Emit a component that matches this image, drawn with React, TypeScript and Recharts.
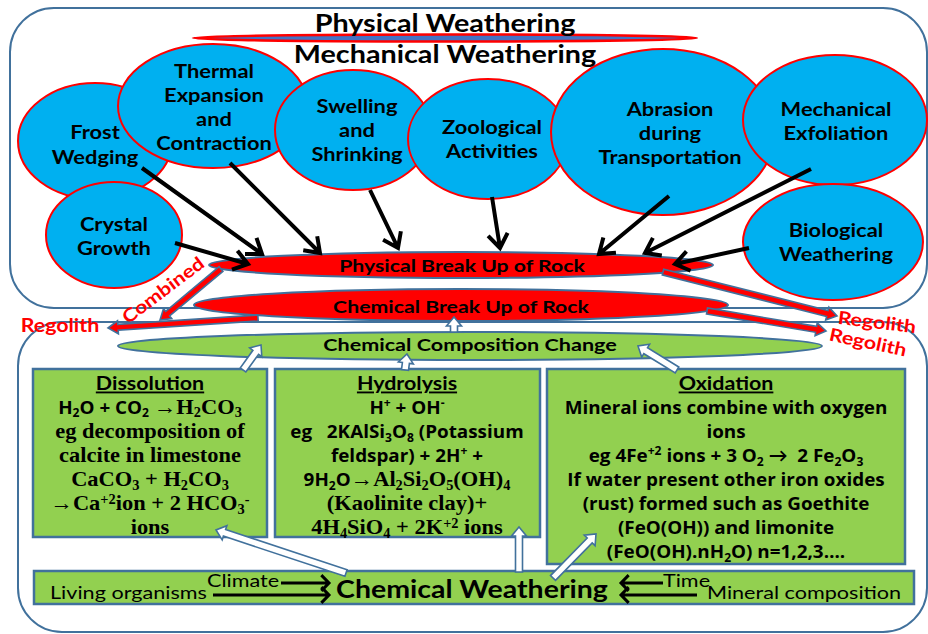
import React from 'react';
import { ScatterChart, Scatter, XAxis, YAxis, ReferenceArea } from 'recharts';

// ---------------- content (text) ----------------
const headingLabels = ['Physical Weathering', 'Mechanical Weathering'];
const causeLabels = [
  ['Frost', 'Wedging'],
  ['Thermal', 'Expansion', 'and', 'Contraction'],
  ['Swelling', 'and', 'Shrinking'],
  ['Zoological', 'Activities'],
  ['Abrasion', 'during', 'Transportation'],
  ['Mechanical', 'Exfoliation'],
  ['Crystal', 'Growth'],
  ['Biological', 'Weathering'],
];
const breakUpLabels = ['Physical Break Up of Rock', 'Chemical Break Up of Rock'];
const compositionLabel = 'Chemical Composition Change';
const regolithLabels = ['Combined', 'Regolith', 'Regolith', 'Regolith'];
const processTitles = ['Dissolution', 'Hydrolysis', 'Oxidation'];
// markup: _x subscript, ^{..} superscript, ~ toggles serif face
const dissolutionLines = [
  'H_2O + CO_2 ~→H_2CO_3',
  '~eg decomposition of',
  '~calcite in limestone',
  '~CaCO_3 + H_2CO_3',
  '~→Ca^{+2}ion + 2 HCO_3^-',
  '~ions',
];
const hydrolysisLines = [
  'H^+ + OH^-',
  'eg \u00a0\u00a02KAlSi_3O_8 (Potassium',
  'feldspar) + 2H^+ +',
  '9H_2O~→Al_2Si_2O_5(OH)_4',
  '~(Kaolinite clay)+',
  '~4H_4SiO_4 + 2K^{+2} ions',
];
const oxidationLines = [
  'Mineral ions combine with oxygen',
  'ions',
  'eg 4Fe^{+2} ions + 3 O_2 → \u00a02 Fe_2O_3',
  'If water present other iron oxides',
  '(rust) formed such as Goethite',
  '(FeO(OH)) and limonite',
  '(FeO(OH).nH_2O) n=1,2,3….',
];
const processLines = [dissolutionLines, hydrolysisLines, oxidationLines];
const weatheringLabel = 'Chemical Weathering';
const factorLabels = ['Living organisms', 'Climate', 'Time', 'Mineral composition'];

// ---------------- layout ----------------
const SANS = 'Lato, "Open Sans", "DejaVu Sans", sans-serif';
const BODY = '"Open Sans", Lato, "DejaVu Sans", sans-serif';
const SERIF = '"Liberation Serif", "DejaVu Serif", serif';
const EDGE = '#41719c';
const SKY = '#00b0f0';
const LEAF = '#92d050';
const RED = '#ff0000';

const panelLayout = [
  [10, 8, 927, 308],
  [18, 322, 927, 632],
];
const boxLayout = [
  [33, 369, 267, 537],
  [275, 369, 540, 537],
  [547, 369, 905, 564],
  [34, 571, 914, 604],
];
// cx, cy, rx, ry, textX, firstLineY, lineGap
const causeLayout = [
  [95, 141, 77, 58, 95, 132, 25],
  [213, 106, 95, 62, 214, 71, 24],
  [353, 130, 78, 60, 357, 106, 24],
  [488, 139, 80, 60, 492, 127, 24],
  [663, 132, 112, 83, 670, 109, 24],
  [835, 120, 92, 65, 836, 109, 24],
  [114, 235, 68, 53, 114, 224, 24],
  [833, 242, 90, 58, 836, 230, 24],
];
const headingLayout = [[445, 23], [445, 54]];
const breakLayout = [
  [461, 265, 252, 13, 462, 266],
  [461, 305, 267, 16, 461, 307],
];
const compositionLayout = [470, 346, 352, 14, 470, 345];
const regolithLayout = [
  [163, 290, -37],
  [60, 326, 0],
  [877, 322, 7],
  [868, 342, 12],
];
const processLayout = [
  [150, 383],
  [407, 383],
  [726, 383],
];
const weatheringLayout = [472, 589];
const factorLayout = [
  [50, 593],
  [207, 581],
  [663, 581],
  [707, 593],
];
const blackArrows = [
  [142, 168, 262, 254],
  [230, 163, 320, 253],
  [370, 190, 398, 248],
  [492, 197, 500, 248],
  [669, 196, 599, 254],
  [811, 169, 645, 253],
  [749, 248, 675, 264],
  [175, 243, 248, 264],
];
const factorArrows = [
  [281, 583, 329, 583],
  [213, 595, 329, 595],
  [663, 583, 621, 583],
  [697, 595, 621, 595],
];
const regolithArrows = [
  [221, 269, 160, 320],
  [258, 318, 108, 328],
  [663, 272, 837, 316],
  [707, 311, 826, 331],
];
const hollowArrows = [
  [454, 332, 454, 317],
  [243, 370, 261, 345],
  [405, 370, 407, 354],
  [677, 370, 638, 346],
  [346, 573, 216, 530],
  [519, 572, 519, 527],
  [553, 578, 596, 534],
];

// ---------------- helpers ----------------
type Seg = { t: string; k: 'n' | 'sub' | 'sup'; serif: boolean };
function parseRich(s: string): Seg[] {
  const segs: Seg[] = [];
  let serif = false;
  let buf = '';
  const flush = () => {
    if (buf) {
      segs.push({ t: buf, k: 'n', serif });
      buf = '';
    }
  };
  for (let i = 0; i < s.length; i++) {
    const c = s[i];
    if (c === '~') {
      flush();
      serif = !serif;
      continue;
    }
    if (c === '_' || c === '^') {
      flush();
      let t = '';
      if (s[i + 1] === '{') {
        const j = s.indexOf('}', i + 2);
        t = s.slice(i + 2, j);
        i = j;
      } else {
        t = s[i + 1];
        i++;
      }
      segs.push({ t, k: c === '_' ? 'sub' : 'sup', serif });
      continue;
    }
    buf += c;
  }
  flush();
  return segs;
}

function RichText(props: any) {
  const {
    x, y, text, size, sx = 1, weight = 700, anchor = 'middle', color = '#000', rotate = 0,
    underline = false, family = SANS, serifScale = 1,
  } = props;
  const segs = parseRich(text);
  let off = 0;
  return (
    <text
      x={0}
      y={size * 0.36}
      textAnchor={anchor}
      fontSize={size}
      fontWeight={weight}
      fill={color}
      fontFamily={family}
      textDecoration={underline ? 'underline' : undefined}
      transform={`translate(${x} ${y}) rotate(${rotate}) scale(${sx} 1)`}
      style={{ whiteSpace: 'pre' }}
    >
      {segs.map((s, i) => {
        const fs = s.serif ? size * serifScale : size;
        const target = s.k === 'sub' ? size * 0.2 : s.k === 'sup' ? -size * 0.36 : 0;
        const dy = target - off;
        off = target;
        return (
          <tspan key={i} dy={dy} fontFamily={s.serif ? SERIF : family} fontSize={s.k === 'n' ? fs : fs * 0.64}>
            {s.t}
          </tspan>
        );
      })}
    </text>
  );
}

function EllipseShape(props: any) {
  const { cx, cy, payload: p } = props;
  return (
    <g>
      <ellipse cx={cx} cy={cy} rx={p.rx} ry={p.ry} fill={p.fill} stroke={p.stroke} strokeWidth={p.sw} />
      {(p.lines || []).map((t: string, j: number) => (
        <RichText key={j} x={cx + p.tdx} y={cy + p.tdy + j * p.gap} text={t} size={p.size} sx={p.sx} />
      ))}
    </g>
  );
}

function LabelShape(props: any) {
  const { cx, cy, payload: p } = props;
  return (
    <RichText
      x={cx}
      y={cy}
      text={p.text}
      size={p.size}
      sx={p.sx}
      weight={p.weight}
      anchor={p.anchor}
      color={p.color}
      rotate={p.rotate}
      underline={p.underline}
      family={p.family}
      serifScale={p.serifScale}
    />
  );
}

const EmptyShape = () => <g />;

const panelShape = (fill: string, r: number, sw: number) => (p: any) =>
  <rect x={p.x} y={p.y} width={p.width} height={p.height} rx={r} ry={r} fill={fill} stroke={EDGE} strokeWidth={sw} />;

function blockPath(x1: number, y1: number, x2: number, y2: number, w: number, hw: number, hl: number) {
  const dx = x2 - x1;
  const dy = y2 - y1;
  const L = Math.hypot(dx, dy);
  const ux = dx / L;
  const uy = dy / L;
  const nx = -uy;
  const ny = ux;
  const bx = x2 - ux * hl;
  const by = y2 - uy * hl;
  const pts = [
    [x1 + nx * w, y1 + ny * w],
    [bx + nx * w, by + ny * w],
    [bx + nx * hw, by + ny * hw],
    [x2, y2],
    [bx - nx * hw, by - ny * hw],
    [bx - nx * w, by - ny * w],
    [x1 - nx * w, y1 - ny * w],
  ];
  return 'M' + pts.map((q) => q[0].toFixed(1) + ',' + q[1].toFixed(1)).join('L') + 'Z';
}

// line renderers receive the scaled points of a two-point series
const blockLine = (fill: string, w: number, hw: number, hl: number) => (p: any) => {
  const [a, b] = p.points;
  return <path d={blockPath(a.x, a.y, b.x, b.y, w, hw, hl)} fill={fill} stroke={EDGE} strokeWidth={1.6} strokeLinejoin="miter" />;
};

const chevronLine = (width: number, hl: number, spread: number) => (p: any) => {
  const [a, b] = p.points;
  const ang = Math.atan2(b.y - a.y, b.x - a.x);
  const h1x = b.x - hl * Math.cos(ang - spread);
  const h1y = b.y - hl * Math.sin(ang - spread);
  const h2x = b.x - hl * Math.cos(ang + spread);
  const h2y = b.y - hl * Math.sin(ang + spread);
  return (
    <path
      d={`M${a.x},${a.y}L${b.x},${b.y}M${h1x},${h1y}L${b.x},${b.y}L${h2x},${h2y}`}
      fill="none"
      stroke="#000"
      strokeWidth={width}
      strokeLinejoin="miter"
    />
  );
};

const toPts = (a: number[]) => [
  { x: a[0], y: a[1] },
  { x: a[2], y: a[3] },
];

// ---------------- tables built from the arrays ----------------
const causeNodes = causeLabels.map((lines, i) => {
  const [cx, cy, rx, ry, tx, ty, gap] = causeLayout[i];
  return { x: cx, y: cy, rx, ry, fill: SKY, stroke: RED, sw: 2, lines, tdx: tx - cx, tdy: ty - cy, gap, size: 19, sx: 1.15 };
});
const ruleNode = [{ x: 445, y: 38, rx: 252, ry: 3.5, fill: '#4472c4', stroke: RED, sw: 2.5, lines: [], tdx: 0, tdy: 0, gap: 0, size: 0, sx: 1 }];
const breakNodes = breakUpLabels.map((t, i) => {
  const [cx, cy, rx, ry, tx, ty] = breakLayout[i];
  return { x: cx, y: cy, rx, ry, fill: RED, stroke: EDGE, sw: 2, lines: [t], tdx: tx - cx, tdy: ty - cy, gap: 0, size: 17, sx: 1.25 };
});
const compositionNode = [
  {
    x: compositionLayout[0],
    y: compositionLayout[1],
    rx: compositionLayout[2],
    ry: compositionLayout[3],
    fill: LEAF,
    stroke: EDGE,
    sw: 2,
    lines: [compositionLabel],
    tdx: compositionLayout[4] - compositionLayout[0],
    tdy: compositionLayout[5] - compositionLayout[1],
    gap: 0,
    size: 17,
    sx: 1.27,
  },
];
const topLabels = [
  ...headingLabels.map((t, i) => ({ x: headingLayout[i][0], y: headingLayout[i][1], text: t, size: 25, sx: 1.15, weight: 700 })),
  ...regolithLabels.map((t, i) => ({
    x: regolithLayout[i][0],
    y: regolithLayout[i][1],
    rotate: regolithLayout[i][2],
    text: t,
    size: 18,
    sx: 1.19,
    weight: 700,
    color: RED,
  })),
];
const boxLabels = [
  ...processTitles.flatMap((title, i) => [
    { x: processLayout[i][0], y: processLayout[i][1], text: title, size: 18.5, sx: 1.16, weight: 700, underline: true },
    ...processLines[i].map((t, j) => ({
      x: processLayout[i][0],
      y: processLayout[i][1] + (j + 1) * 24.1,
      text: t,
      size: 18.5,
      sx: 1.02,
      weight: 700,
      family: BODY,
      serifScale: 1.19,
    })),
  ]),
  { x: weatheringLayout[0], y: weatheringLayout[1], text: weatheringLabel, size: 25, sx: 1.14, weight: 700 },
  ...factorLabels.map((t, i) => ({ x: factorLayout[i][0], y: factorLayout[i][1], text: t, size: 18, sx: 1.2, weight: 400, anchor: 'start' })),
];

export default function App() {
  return (
    <div style={{ position: 'absolute', left: 0, top: 0, width: 928, height: 634, background: '#fff' }}>
      <ScatterChart width={928} height={634} margin={{ top: 0, right: 0, bottom: 0, left: 0 }}>
        <XAxis type="number" dataKey="x" domain={[0, 928]} allowDataOverflow hide />
        <YAxis type="number" dataKey="y" domain={[0, 634]} reversed allowDataOverflow hide />
        {panelLayout.map((b, i) => (
          <ReferenceArea key={'p' + i} x1={b[0]} y1={b[1]} x2={b[2]} y2={b[3]} shape={panelShape('#fff', 44, 2)} />
        ))}
        {boxLayout.map((b, i) => (
          <ReferenceArea key={'bx' + i} x1={b[0]} y1={b[1]} x2={b[2]} y2={b[3]} shape={panelShape(LEAF, 0, 2.5)} />
        ))}
        <Scatter data={causeNodes} shape={EllipseShape} isAnimationActive={false} />
        <Scatter data={ruleNode} shape={EllipseShape} isAnimationActive={false} />
        <Scatter data={compositionNode} shape={EllipseShape} isAnimationActive={false} />
        <Scatter data={breakNodes} shape={EllipseShape} isAnimationActive={false} />
        <Scatter data={topLabels} shape={LabelShape} isAnimationActive={false} />
        <Scatter data={boxLabels} shape={LabelShape} isAnimationActive={false} />
        {blackArrows.map((a, i) => (
          <Scatter key={'k' + i} data={toPts(a)} shape={EmptyShape} line={chevronLine(4, 17, 0.62)} lineType="joint" isAnimationActive={false} />
        ))}
        {factorArrows.map((a, i) => (
          <Scatter key={'f' + i} data={toPts(a)} shape={EmptyShape} line={chevronLine(3, 11, 0.8)} lineType="joint" isAnimationActive={false} />
        ))}
        {regolithArrows.map((a, i) => (
          <Scatter key={'r' + i} data={toPts(a)} shape={EmptyShape} line={blockLine(RED, 3, 6.5, 10)} lineType="joint" isAnimationActive={false} />
        ))}
        {hollowArrows.map((a, i) => (
          <Scatter key={'h' + i} data={toPts(a)} shape={EmptyShape} line={blockLine('#fff', 3.5, 7.5, 9)} lineType="joint" isAnimationActive={false} />
        ))}
      </ScatterChart>
    </div>
  );
}
